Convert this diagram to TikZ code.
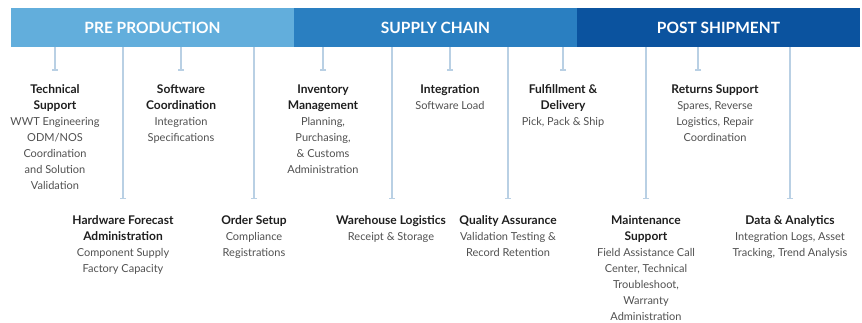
\documentclass[tikz,border=0pt]{standalone}
\usepackage{fontspec}
\setmainfont{Lato}
\usetikzlibrary{arrows.meta}
\definecolor{precol}{HTML}{62AEDC}
\definecolor{supcol}{HTML}{2A7FC1}
\definecolor{postcol}{HTML}{0B539F}
\definecolor{conncol}{HTML}{B9D0E4}
\definecolor{ttlcol}{HTML}{1E1E1E}
\definecolor{desccol}{HTML}{505050}
\newcommand{\ttl}[1]{{\color{ttlcol}\fontsize{12}{16}\selectfont\bfseries #1}}
\begin{document}
\begin{tikzpicture}[x=1pt,y=-1pt,
  bar/.style={fill=#1, draw=none, minimum width=283pt, minimum height=39pt, inner sep=0pt,
    text=white, font=\fontsize{15.5}{18}\selectfont\bfseries},
  item/.style={anchor=north, inner sep=0pt, align=center, text=desccol,
    font=\fontsize{11}{16}\selectfont},
  connector/.style={draw=conncol, line width=1.2pt, -{Bar[width=6pt,line width=1.2pt]}}
]
\useasboundingbox (0,0) rectangle (862,322);
% header bars
\node[bar=precol]  (pre)  at (152.5,27.5) {PRE PRODUCTION};
\node[bar=supcol]  (sup)  at (435.5,27.5) {SUPPLY CHAIN};
\node[bar=postcol] (post) at (718.5,27.5) {POST SHIPMENT};

% connector ends
\coordinate (eTech)  at (55,70.5);
\coordinate (eHw)    at (123,199);
\coordinate (eSoft)  at (181,70.5);
\coordinate (eOrder) at (254,199);
\coordinate (eInv)   at (323,70.5);
\coordinate (eWh)    at (392,199);
\coordinate (eInt)   at (450,70.5);
\coordinate (eQa)    at (508,199);
\coordinate (eFul)   at (563,70.5);
\coordinate (eMnt)   at (646,199);
\coordinate (eRet)   at (698,70.5);
\coordinate (eData)  at (790,199);

\draw[connector] (pre.south -| eTech) -- (eTech);
\draw[connector] (pre.south -| eHw) -- (eHw);
\draw[connector] (pre.south -| eSoft) -- (eSoft);
\draw[connector] (pre.south -| eOrder) -- (eOrder);
\draw[connector] (sup.south -| eInv) -- (eInv);
\draw[connector] (sup.south -| eWh) -- (eWh);
\draw[connector] (sup.south -| eInt) -- (eInt);
\draw[connector] (sup.south -| eQa) -- (eQa);
\draw[connector] (sup.south -| eFul) -- (eFul);
\draw[connector] (post.south -| eMnt) -- (eMnt);
\draw[connector] (post.south -| eRet) -- (eRet);
\draw[connector] (post.south -| eData) -- (eData);

% top row
\node[item] (tech) at (55,84.5) {\ttl{Technical}\\\ttl{Support}\\WWT Engineering\\ODM/NOS\\Coordination\\and Solution\\Validation};
\node[item] (soft) at (181,84.5) {\ttl{Software}\\\ttl{Coordination}\\Integration\\Specifications};
\node[item] (inv) at (323,84.5) {\ttl{Inventory}\\\ttl{Management}\\Planning,\\Purchasing,\\\& Customs\\Administration};
\node[item] (int) at (450,84.5) {\ttl{Integration}\\Software Load};
\node[item] (ful) at (563,84.5) {\ttl{Fulfillment \&}\\\ttl{Delivery}\\Pick, Pack \& Ship};
\node[item] (ret) at (715,84.5) {\ttl{Returns Support}\\Spares, Reverse\\Logistics, Repair\\Coordination};

% bottom row
\node[item] (hw) at (123,215.5) {\ttl{Hardware Forecast}\\\ttl{Administration}\\Component Supply\\Factory Capacity};
\node[item] (order) at (254,215.5) {\ttl{Order Setup}\\Compliance\\Registrations};
\node[item] (wh) at (391,215.5) {\ttl{Warehouse Logistics}\\Receipt \& Storage};
\node[item] (qa) at (508,215.5) {\ttl{Quality Assurance}\\Validation Testing \&\\Record Retention};
\node[item] (mnt) at (646,215.5) {\ttl{Maintenance}\\\ttl{Support}\\Field Assistance Call\\Center, Technical\\Troubleshoot,\\Warranty\\Administration};
\node[item] (data) at (790,215.5) {\ttl{Data \& Analytics}\\Integration Logs, Asset\\Tracking, Trend Analysis};
\end{tikzpicture}
\end{document}
